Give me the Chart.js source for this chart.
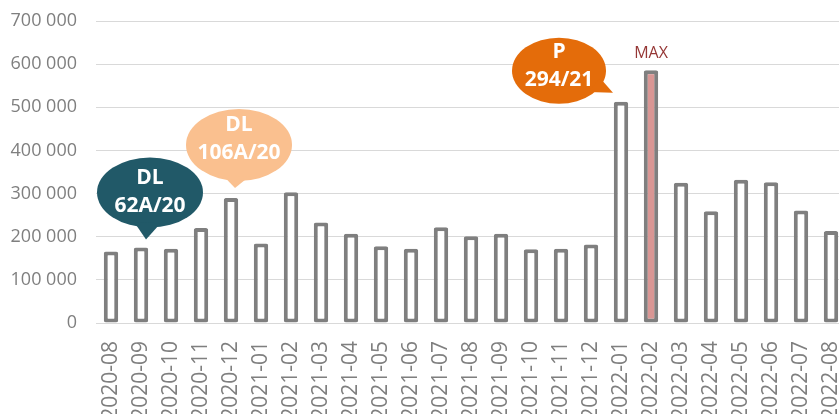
<!DOCTYPE html>
<html>
<head>
<meta charset="utf-8">
<script src="https://cdn.jsdelivr.net/npm/chart.js@4"></script>
<style>
    html, body { margin: 0; padding: 0; background: #ffffff; overflow: hidden; }
    #wrap { position: relative; width: 846px; height: 420px; }
</style>
</head>
<body>
<div id="wrap"><canvas id="mainChart"></canvas></div>
<script>
// Data
const months = [
    '2020-08', '2020-09', '2020-10', '2020-11', '2020-12',
    '2021-01', '2021-02', '2021-03', '2021-04', '2021-05', '2021-06',
    '2021-07', '2021-08', '2021-09', '2021-10', '2021-11', '2021-12',
    '2022-01', '2022-02', '2022-03', '2022-04', '2022-05', '2022-06',
    '2022-07', '2022-08'
];
const counts = [
    166000, 175000, 172000, 220000, 290000,
    184000, 303000, 233000, 207000, 178000, 172000,
    222000, 201000, 207000, 171000, 172000, 182000,
    513000, 586000, 325000, 259000, 332000, 326000,
    261000, 213000
];
const yTicks = [0, 100000, 200000, 300000, 400000, 500000, 600000, 700000];
const maxMonth = '2022-02';
const maxLabel = 'MAX';
const calloutMonths = ['2020-09', '2020-12', '2022-01'];
const calloutTexts = [['DL', '62A/20'], ['DL', '106A/20'], ['P', '294/21']];

// Callout look, relative to the bar top it points at
const calloutStyles = [
    { color: '#215968', dx: 9,   dy: -55, rx: 53, ry: 35, tipDx: 5,  tipDy: -8,  textDy: 0 },
    { color: '#fac08f', dx: 8,   dy: -53, rx: 53, ry: 36, tipDx: 4,  tipDy: -10, textDy: -6 },
    { color: '#e46c0a', dx: -62, dy: -31, rx: 47, ry: 33, tipDx: -8, tipDy: -9,  textDy: -5 }
];

const fmt = v => String(v).replace(/\B(?=(\d{3})+(?!\d))/g, ' ');

const calloutPlugin = {
    id: 'callouts',
    afterDatasetsDraw(chart) {
        const ctx = chart.ctx;
        const meta = chart.getDatasetMeta(0);

        // MAX label
        const mb = meta.data[months.indexOf(maxMonth)];
        ctx.save();
        ctx.fillStyle = '#953735';
        ctx.font = '16px "Open Sans"';
        ctx.textAlign = 'center';
        ctx.textBaseline = 'middle';
        ctx.fillText(maxLabel, mb.x, mb.y - 17);
        ctx.restore();

        calloutMonths.forEach((m, i) => {
            const bar = meta.data[months.indexOf(m)];
            const s = calloutStyles[i];
            const cx = bar.x + s.dx;
            const cy = bar.y + s.dy;
            const tx = bar.x + s.tipDx;
            const ty = bar.y + s.tipDy;
            const ang = Math.atan2((ty - cy) / s.ry, (tx - cx) / s.rx);

            ctx.save();
            ctx.fillStyle = s.color;
            ctx.beginPath();
            ctx.ellipse(cx, cy, s.rx, s.ry, 0, 0, Math.PI * 2);
            ctx.fill();
            ctx.beginPath();
            ctx.moveTo(cx + s.rx * 0.9 * Math.cos(ang - 0.28), cy + s.ry * 0.9 * Math.sin(ang - 0.28));
            ctx.lineTo(tx, ty);
            ctx.lineTo(cx + s.rx * 0.9 * Math.cos(ang + 0.28), cy + s.ry * 0.9 * Math.sin(ang + 0.28));
            ctx.closePath();
            ctx.fill();

            ctx.fillStyle = '#ffffff';
            ctx.font = 'bold 21px "Open Sans"';
            ctx.textAlign = 'center';
            ctx.textBaseline = 'middle';
            const lines = calloutTexts[i];
            lines.forEach((t, k) => {
                ctx.fillText(t, cx, cy + s.textDy + (k - (lines.length - 1) / 2) * 28);
            });
            ctx.restore();
        });
    }
};

const ctx = document.getElementById('mainChart').getContext('2d');
new Chart(ctx, {
    type: 'bar',
    data: {
        labels: months,
        datasets: [{
            data: counts,
            backgroundColor: months.map(m => m === maxMonth ? '#d99694' : '#ffffff'),
            borderColor: '#7f7f7f',
            borderWidth: 4,
            borderSkipped: false,
            borderRadius: 2,
            categoryPercentage: 1,
            barPercentage: 0.48
        }]
    },
    options: {
        responsive: true,
        maintainAspectRatio: false,
        animation: false,
        layout: { padding: { top: 21, right: 0, left: 0, bottom: 0 } },
        plugins: {
            legend: { display: false },
            tooltip: { enabled: false }
        },
        scales: {
            x: {
                grid: { display: false },
                border: { display: false },
                ticks: {
                    color: '#7f7f7f',
                    font: { family: 'Open Sans', size: 21 },
                    minRotation: 90,
                    maxRotation: 90,
                    autoSkip: false,
                    padding: 10
                },
                afterFit: scale => {
                    scale.height = 97;
                    scale.paddingLeft = 0;
                    scale.paddingRight = 0;
                }
            },
            y: {
                min: 0,
                max: 700000,
                afterBuildTicks: scale => { scale.ticks = yTicks.map(v => ({ value: v })); },
                grid: { color: '#d9d9d9', lineWidth: 1, drawTicks: false },
                border: { display: false },
                ticks: {
                    color: '#7f7f7f',
                    font: { family: 'Open Sans', size: 18 },
                    padding: 19,
                    callback: v => fmt(v)
                },
                afterFit: scale => {
                    scale.width = 96;
                    scale.paddingTop = 0;
                    scale.paddingBottom = 0;
                }
            }
        }
    },
    plugins: [calloutPlugin]
});
</script>
</body>
</html>
